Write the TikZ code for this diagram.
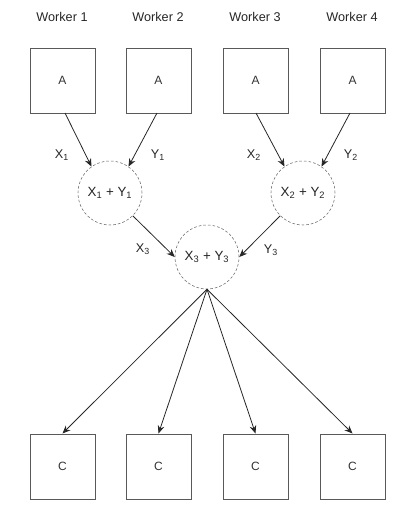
\documentclass[tikz,border=0pt]{standalone}
\usepackage{fontspec}
\setmainfont{Liberation Sans}
\usetikzlibrary{arrows.meta}
\begin{document}
\begin{tikzpicture}[x=0.75pt,y=-0.75pt,
  box/.style={draw=black!65,line width=0.75pt,minimum size=48.75pt,inner sep=0pt,text=black!80,font=\fontsize{9}{10}\selectfont},
  sumnode/.style={draw=black!60,dashed,dash pattern=on 2pt off 1.5pt,circle,minimum size=48pt,inner sep=0pt,text=black!85,font=\fontsize{10}{12}\selectfont},
  lbl/.style={font=\fontsize{9.5}{11}\selectfont,inner sep=0pt,text=black!85},
  conn/.style={draw=black!85,line width=0.6pt,-{Stealth[length=6pt,width=5pt]}}]
\useasboundingbox (0,0) rectangle (411,507);
\node[lbl] (w1) at (62,17) {Worker 1};
\node[lbl] (w2) at (158,17) {Worker 2};
\node[lbl] (w3) at (255,17) {Worker 3};
\node[lbl] (w4) at (352,17) {Worker 4};
\node[box] (a1) at (62.5,80.5) {A};
\node[box] (a2) at (158.5,80.5) {A};
\node[box] (a3) at (255.5,80.5) {A};
\node[box] (a4) at (352.5,80.5) {A};
\node[box] (c1) at (62.5,466.5) {C};
\node[box] (c2) at (158.5,466.5) {C};
\node[box] (c3) at (255.5,466.5) {C};
\node[box] (c4) at (352.5,466.5) {C};
\node[sumnode] (s1) at (110,193) {X\textsubscript{1} + Y\textsubscript{1}};
\node[sumnode] (s2) at (303,193) {X\textsubscript{2} + Y\textsubscript{2}};
\node[sumnode] (s3) at (207,257) {X\textsubscript{3} + Y\textsubscript{3}};
\coordinate (a1o) at (65,113);
\coordinate (a2o) at (157,113);
\coordinate (a3o) at (256,113);
\coordinate (a4o) at (350,113);
\draw[conn] (a1o) -- (s1.125);
\draw[conn] (a2o) -- (s1.55);
\draw[conn] (a3o) -- (s2.125);
\draw[conn] (a4o) -- (s2.55);
\draw[conn] (s1.-45) -- (s3.180);
\draw[conn] (s2.-135) -- (s3.0);
\draw[conn] (s3.-90) -- (c1.north);
\draw[conn] (s3.-90) -- (c2.north);
\draw[conn] (s3.-90) -- (c3.north);
\draw[conn] (s3.-90) -- (c4.north);
\node[lbl] (x1) at (62,155) {X\textsubscript{1}};
\node[lbl] (y1) at (158,155) {Y\textsubscript{1}};
\node[lbl] (x2) at (254,155) {X\textsubscript{2}};
\node[lbl] (y2) at (351,155) {Y\textsubscript{2}};
\node[lbl] (x3) at (143,249) {X\textsubscript{3}};
\node[lbl] (y3) at (271,250) {Y\textsubscript{3}};
\end{tikzpicture}
\end{document}
